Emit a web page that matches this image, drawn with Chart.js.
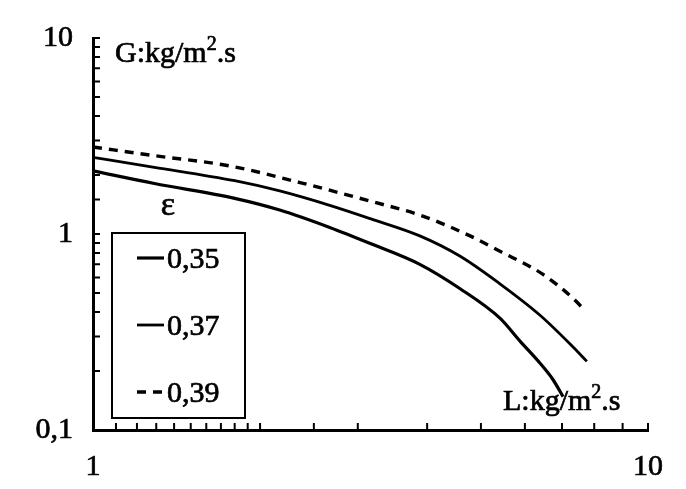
<!DOCTYPE html>
<html>
<head>
<meta charset="utf-8">
<script src="https://cdn.jsdelivr.net/npm/chart.js@4.4.1/dist/chart.umd.min.js"></script>
<style>
  html, body { margin: 0; padding: 0; background: #fff; }
  #wrap { width: 686px; height: 489px; }
</style>
</head>
<body>
<div id="wrap"><canvas id="gChart" width="686" height="489"></canvas></div>
<script>
// L (kg/m2.s) and G (kg/m2.s), one pair per porosity
var L35 = [1.0, 1.29, 1.80, 2.17, 2.67, 3.16, 3.88, 4.58, 5.41, 5.88, 6.39, 6.74, 7.03];
var G35 = [2.10, 1.81, 1.52, 1.325, 1.08, 0.894, 0.70, 0.527, 0.372, 0.284, 0.219, 0.181, 0.148];

var L37 = [1.0, 1.29, 1.80, 2.17, 2.67, 3.16, 3.88, 4.58, 5.41, 6.39, 7.32, 7.76];
var G37 = [2.46, 2.19, 1.87, 1.658, 1.40, 1.197, 0.978, 0.772, 0.557, 0.385, 0.266, 0.224];

var L39 = [1.0, 1.29, 1.77, 2.36, 3.22, 3.88, 4.78, 5.41, 6.46, 7.32, 7.70];
var G39 = [2.78, 2.51, 2.22, 1.83, 1.45, 1.25, 0.978, 0.817, 0.624, 0.471, 0.407];

var epsLabels = ['0,35', '0,37', '0,39'];
var xTickLabels = [1, 10];
var yTickLabels = [0.1, 1, 10];

var FONT = '"Liberation Serif", "Times New Roman", serif';

function pairs(xs, ys) {
  return xs.map(function (x, i) { return { x: x, y: ys[i] } })
}

function fmt(v) {
  return String(v).replace('.', ',')
}

// scanned print looks heavier than plain Times, so fill + thin stroke
function inkText(ctx, s, x, y) {
  ctx.fillText(s, x, y)
  ctx.strokeText(s, x, y)
}

// text with a superscript 2 in the middle, e.g. G:kg/m².s
function unitText(ctx, x, y, pre, sup, post) {
  ctx.font = '30px ' + FONT
  inkText(ctx, pre, x, y)
  x += ctx.measureText(pre).width
  ctx.font = '20px ' + FONT
  inkText(ctx, sup, x, y - 12)
  x += ctx.measureText(sup).width
  ctx.font = '30px ' + FONT
  inkText(ctx, post, x, y)
}

var paperPlugin = {
  id: 'paper',
  afterDraw: function (chart) {
    var ctx = chart.ctx
    var xs = chart.scales.x, ys = chart.scales.y
    ctx.save()
    ctx.strokeStyle = '#000'
    ctx.fillStyle = '#000'

    // tick marks pointing into the plot
    ctx.lineWidth = 2
    ctx.beginPath()
    xs.ticks.forEach(function (t) {
      var px = xs.getPixelForValue(t.value)
      ctx.moveTo(px, xs.top); ctx.lineTo(px, xs.top - 7)
    })
    ys.ticks.forEach(function (t) {
      var py = ys.getPixelForValue(t.value)
      ctx.moveTo(ys.right, py); ctx.lineTo(ys.right + 7, py)
    })
    ctx.stroke()

    // axis titles
    ctx.lineWidth = 0.7
    ctx.textAlign = 'left'
    ctx.textBaseline = 'alphabetic'
    unitText(ctx, 115, 62, 'G:kg/m', '2', '.s')
    unitText(ctx, 503, 410, 'L:kg/m', '2', '.s')

    // legend
    ctx.font = '34px ' + FONT
    ctx.textAlign = 'center'
    inkText(ctx, '\u03b5', 168, 215)
    ctx.lineWidth = 2
    ctx.strokeRect(112, 233, 133, 185)
    ctx.textAlign = 'left'
    ctx.font = '30px ' + FONT
    chart.data.datasets.forEach(function (ds, i) {
      var yy = 258 + i * 67
      ctx.save()
      ctx.lineWidth = ds.borderWidth
      ctx.setLineDash(ds.borderDash || [])
      ctx.beginPath()
      ctx.moveTo(137, yy); ctx.lineTo(164, yy)
      ctx.stroke()
      ctx.restore()
      ctx.lineWidth = 0.7
      inkText(ctx, ds.label, 167, yy + 10)
    })
    ctx.restore()
  }
}

Chart.defaults.color = '#000'

var curve = { borderColor: '#000', cubicInterpolationMode: 'monotone', pointRadius: 0 }
var tickFont = { family: FONT, size: 30 }

var gChart = new Chart(document.getElementById('gChart').getContext('2d'), {
  type: 'line',
  data: {
    datasets: [
      Object.assign({ label: epsLabels[0], data: pairs(L35, G35), borderWidth: 3.2 }, curve),
      Object.assign({ label: epsLabels[1], data: pairs(L37, G37), borderWidth: 2.8 }, curve),
      Object.assign({ label: epsLabels[2], data: pairs(L39, G39), borderWidth: 3.4, borderDash: [9, 7] }, curve)
    ]
  },
  options: {
    responsive: false,
    animation: false,
    devicePixelRatio: 1,
    layout: { padding: { top: 19, right: 38, bottom: 0, left: 0 } },
    plugins: { legend: { display: false }, tooltip: { enabled: false } },
    scales: {
      x: {
        type: 'logarithmic',
        min: 1, max: 10,
        afterFit: function (scale) { scale.height = 59 },
        grid: { display: true, drawOnChartArea: false, drawTicks: false },
        border: { display: true, color: '#000', width: 3 },
        ticks: {
          autoSkip: false, maxRotation: 0, padding: 19,
          font: tickFont, textStrokeColor: '#000', textStrokeWidth: 0.7,
          callback: function (v) { return xTickLabels.indexOf(v) >= 0 ? fmt(v) : '' }
        }
      },
      y: {
        type: 'logarithmic',
        min: 0.1, max: 10,
        afterFit: function (scale) { scale.width = 93 },
        grid: { display: true, drawOnChartArea: false, drawTicks: false },
        border: { display: true, color: '#000', width: 3 },
        ticks: {
          autoSkip: false, padding: 20,
          font: tickFont, textStrokeColor: '#000', textStrokeWidth: 0.7,
          callback: function (v) { return yTickLabels.indexOf(v) >= 0 ? fmt(v) : '' }
        }
      }
    }
  },
  plugins: [paperPlugin]
})
</script>
</body>
</html>
